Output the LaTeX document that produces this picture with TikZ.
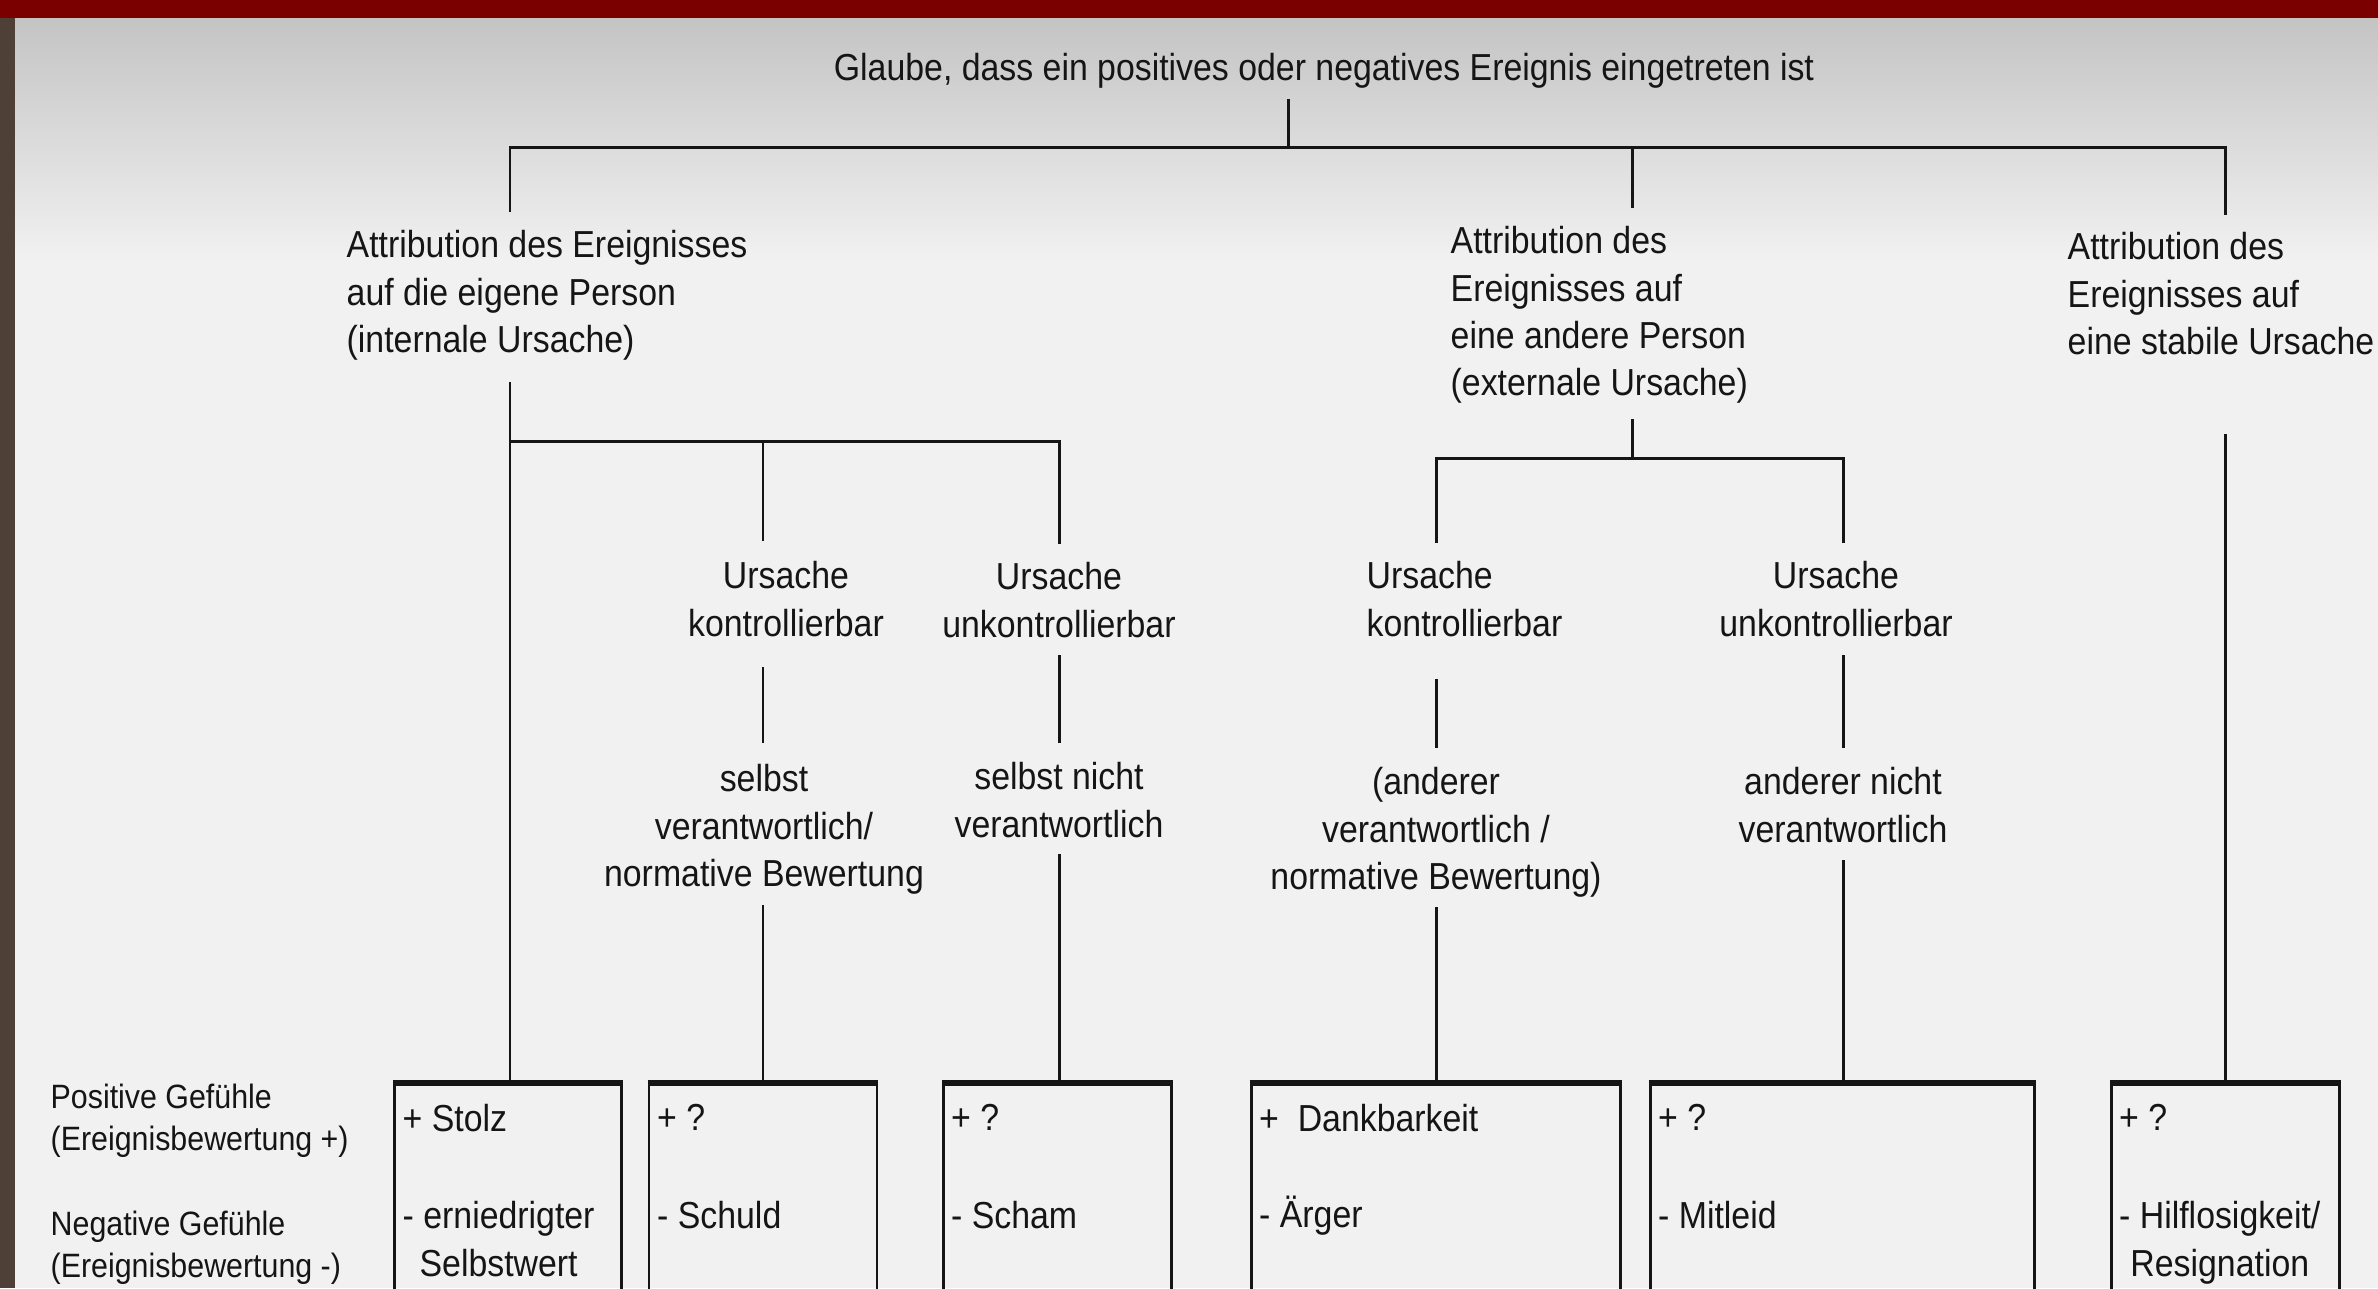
\documentclass[tikz,border=0pt]{standalone}
\usepackage{fontspec}
\setmainfont{Liberation Sans}[FakeStretch=0.9]
\newcommand\mainsize{\fontsize{10.7pt}{13.4pt}\selectfont}
\newcommand\sidesize{\fontsize{9.6pt}{12pt}\selectfont}
\definecolor{ink}{HTML}{151515}
\definecolor{topbar}{HTML}{7A0000}
\definecolor{leftbar}{HTML}{4F4037}
\definecolor{papertop}{HTML}{C4C4C4}
\definecolor{paper}{HTML}{F1F1F1}
\begin{document}
\begin{tikzpicture}[x=0.1mm,y=-0.1mm,
  lbl/.style={font=\mainsize, inner sep=0pt, text=ink, align=left},
  clbl/.style={lbl, align=center},
  side/.style={font=\sidesize, inner sep=0pt, text=ink, align=left, anchor=north west},
  link/.style={draw=ink, line width=0.85pt},
  ebox/.style={draw=ink, line width=0.85pt, minimum height=30mm, anchor=north, inner sep=0pt},
  boxtop/.style={draw=ink, line width=1.5pt}]

% page frame and paper
\useasboundingbox (0,0) rectangle (2378,1288);
\clip (0,0) rectangle (2378,1288);
\fill[paper] (0,0) rectangle (2378,1288);
\shade[top color=papertop, bottom color=paper] (15,18) rectangle (2378,260);
\fill[topbar] (0,0) rectangle (2378,18);
\fill[leftbar] (0,18) rectangle (15,1288);

% headings
\node[lbl, anchor=north] (title) at (1324,53) {Glaube, dass ein positives oder negatives Ereignis eingetreten ist};
\node[lbl, anchor=north west] (a1) at (346,230) {Attribution des Ereignisses\\auf die eigene Person\\(internale Ursache)};
\node[lbl, anchor=north west] (a2) at (1450,226) {Attribution des\\Ereignisses auf\\eine andere Person\\(externale Ursache)};
\node[lbl, anchor=north west] (a3) at (2067,232) {Attribution des\\Ereignisses auf\\eine stabile Ursache};

% controllability
\node[clbl, anchor=north] (u1) at (786,561) {Ursache\\kontrollierbar};
\node[clbl, anchor=north] (u2) at (1059,562) {Ursache\\unkontrollierbar};
\node[lbl, anchor=north west] (u3) at (1366,561) {Ursache\\kontrollierbar};
\node[clbl, anchor=north] (u4) at (1836,561) {Ursache\\unkontrollierbar};

% responsibility
\node[clbl, anchor=north] (s1) at (764,764) {selbst\\verantwortlich/\\normative Bewertung};
\node[clbl, anchor=north] (s2) at (1059,762) {selbst nicht\\verantwortlich};
\node[clbl, anchor=north] (s3) at (1436,767) {(anderer\\verantwortlich /\\normative Bewertung)};
\node[clbl, anchor=north] (s4) at (1843,767) {anderer nicht\\verantwortlich};

% emotion boxes
\node[ebox, minimum width=22.7mm] (b1) at (508,1083) {};
\node[ebox, minimum width=22.8mm] (b2) at (763,1083) {};
\node[ebox, minimum width=22.8mm] (b3) at (1057,1083) {};
\node[ebox, minimum width=36.9mm] (b4) at (1435.5,1083) {};
\node[ebox, minimum width=38.4mm] (b5) at (1842,1083) {};
\node[ebox, minimum width=22.8mm] (b6) at (2225,1083) {};
\foreach \b in {b1,b2,b3,b4,b5,b6}
  \draw[boxtop] (\b.north west) -- (\b.north east);

\node[lbl, anchor=north west] (p1) at ([xshift=0.9mm,yshift=-2.1mm]b1.north west) {+ Stolz};
\node[clbl, anchor=north west] (n1) at ([xshift=0.9mm,yshift=-11.8mm]b1.north west) {- erniedrigter\\Selbstwert};
\node[lbl, anchor=north west] (p2) at ([xshift=0.9mm,yshift=-2.1mm]b2.north west) {+ ?};
\node[lbl, anchor=north west] (n2) at ([xshift=0.9mm,yshift=-11.8mm]b2.north west) {- Schuld};
\node[lbl, anchor=north west] (p3) at ([xshift=0.9mm,yshift=-2.1mm]b3.north west) {+ ?};
\node[lbl, anchor=north west] (n3) at ([xshift=0.9mm,yshift=-11.8mm]b3.north west) {- Scham};
\node[lbl, anchor=north west] (p4) at ([xshift=0.9mm,yshift=-2.1mm]b4.north west) {+\ \ Dankbarkeit};
\node[lbl, anchor=north west] (n4) at ([xshift=0.9mm,yshift=-11.2mm]b4.north west) {- Ärger};
\node[lbl, anchor=north west] (p5) at ([xshift=0.9mm,yshift=-2.1mm]b5.north west) {+ ?};
\node[lbl, anchor=north west] (n5) at ([xshift=0.9mm,yshift=-11.8mm]b5.north west) {- Mitleid};
\node[lbl, anchor=north west] (p6) at ([xshift=0.9mm,yshift=-2.1mm]b6.north west) {+ ?};
\node[clbl, anchor=north west] (n6) at ([xshift=0.9mm,yshift=-11.8mm]b6.north west) {- Hilflosigkeit/\\Resignation};

% row labels
\node[side] (pos) at (50,1083) {Positive Gefühle\\(Ereignisbewertung +)};
\node[side] (neg) at (50,1210) {Negative Gefühle\\(Ereignisbewertung -)};

% junction points and line ends
\coordinate (t0) at (1288,99);
\coordinate (t1) at (1288,147);
\coordinate (h1) at (510,147);
\coordinate (h2) at (1632,147);
\coordinate (h3) at (2225,147);
\coordinate (d1) at (510,212);
\coordinate (d2) at (1632,208);
\coordinate (d3) at (2225,215);

\coordinate (e1) at (510,382);
\coordinate (k1) at (510,441);
\coordinate (k2) at (763,441);
\coordinate (k3) at (1059,441);
\coordinate (k2e) at (763,541);
\coordinate (k3e) at (1059,544);

\coordinate (e2) at (1632,419);
\coordinate (m0) at (1632,458);
\coordinate (m1) at (1436,458);
\coordinate (m2) at (1843,458);
\coordinate (m1e) at (1436,543);
\coordinate (m2e) at (1843,543);

\coordinate (v1a) at (763,667);  \coordinate (v1b) at (763,743);  \coordinate (w1) at (763,905);
\coordinate (v2a) at (1059,655); \coordinate (v2b) at (1059,743); \coordinate (w2) at (1059,854);
\coordinate (v3a) at (1436,679); \coordinate (v3b) at (1436,748); \coordinate (w3) at (1436,907);
\coordinate (v4a) at (1843,655); \coordinate (v4b) at (1843,748); \coordinate (w4) at (1843,860);
\coordinate (e3) at (2225,434);

% connectors
\draw[link] (t0) -- (t1);
\draw[link] (d1) -- (h1) -- (h3) -- (d3);
\draw[link] (h2) -- (d2);

\draw[link] (e1) -- (e1 |- b1.north);
\draw[link] (k1) -- (k3) -- (k3e);
\draw[link] (k2) -- (k2e);
\draw[link] (v1a) -- (v1b);
\draw[link] (w1) -- (b2.north);
\draw[link] (v2a) -- (v2b);
\draw[link] (w2) -- (w2 |- b3.north);

\draw[link] (e2) -- (m0);
\draw[link] (m1e) -- (m1) -- (m2) -- (m2e);
\draw[link] (v3a) -- (v3b);
\draw[link] (w3) -- (w3 |- b4.north);
\draw[link] (v4a) -- (v4b);
\draw[link] (w4) -- (w4 |- b5.north);

\draw[link] (e3) -- (b6.north);
\end{tikzpicture}
\end{document}
